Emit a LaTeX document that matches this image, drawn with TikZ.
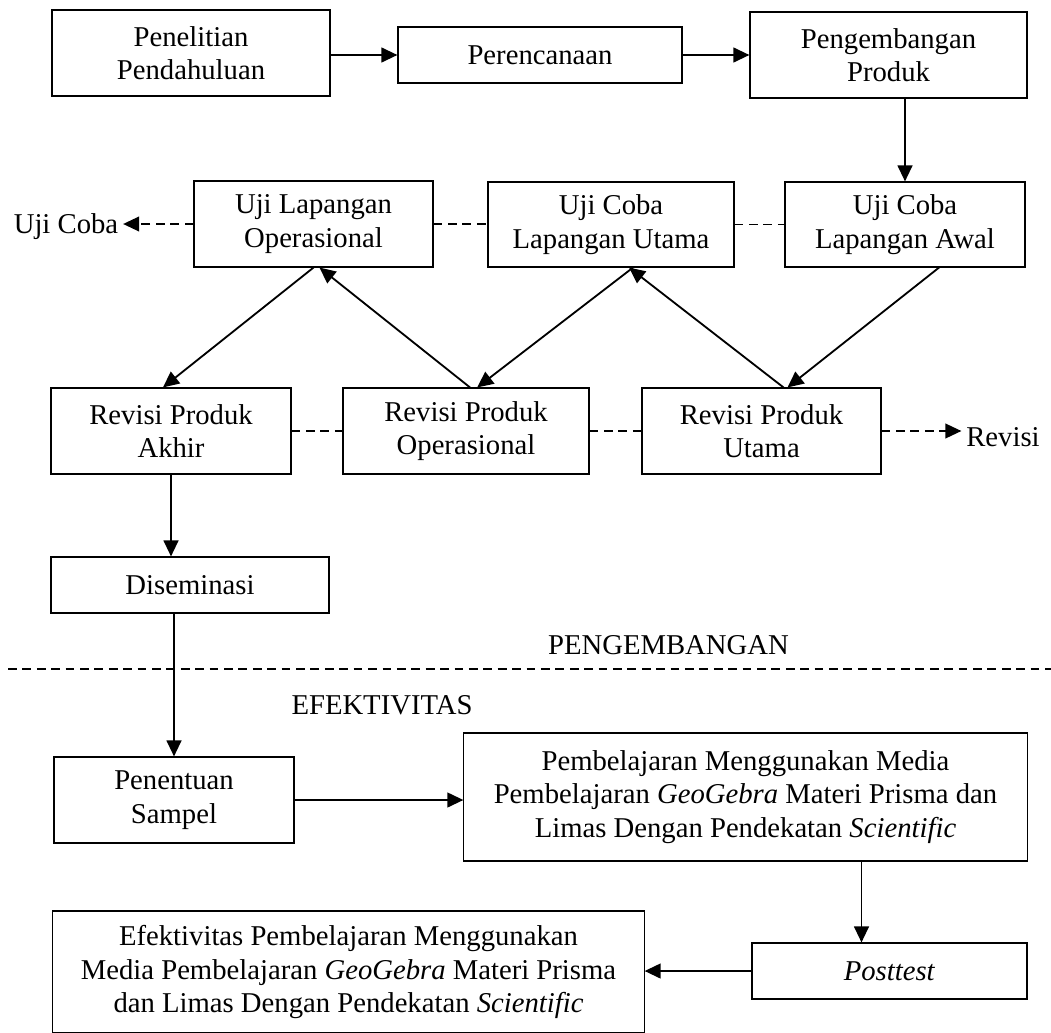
\documentclass[tikz,border=0pt]{standalone}
\usepackage{fontspec}
\setmainfont{Liberation Serif}
\usetikzlibrary{arrows.meta}
\tikzset{
  box/.style={draw, line width=0.8pt, align=center, inner sep=0pt},
  arr/.style={line width=1.3pt, -{Triangle[length=0.4cm,width=0.37cm]}},
  dashline/.style={line width=1pt, dash pattern=on 0.22cm off 0.14cm},
}

\begin{document}
\begin{tikzpicture}[x=0.025cm, y=-0.025cm, font=\fontsize{20.4}{23.8}\selectfont]
\useasboundingbox (0,0) rectangle (1051,1032);
\node[box, minimum width=6.95cm, minimum height=2.15cm] (pen) at (191,53) {Penelitian\\Pendahuluan};
\node[box, minimum width=7.1cm, minimum height=1.4cm] (ren) at (540,55) {Perencanaan};
\node[box, minimum width=6.925cm, minimum height=2.15cm] (pp) at (888.5,55) {Pengembangan\\Produk};
\node[box, minimum width=5.975cm, minimum height=2.15cm] (ulo) at (313.5,224) {Uji Lapangan\\Operasional};
\node[box, minimum width=6.15cm, minimum height=2.125cm] (uclu) at (611,224.5) {Uji Coba\\Lapangan Utama};
\node[box, minimum width=6cm, minimum height=2.125cm] (ucla) at (905,224.5) {Uji Coba\\Lapangan Awal};
\node[box, minimum width=6cm, minimum height=2.15cm] (rpa) at (171,431) {Revisi Produk\\Akhir};
\node[box, minimum width=6.15cm, minimum height=2.15cm] (rpo) at (466,431) {Revisi Produk\\Operasional};
\node[box, minimum width=5.975cm, minimum height=2.15cm] (rpu) at (761.5,431) {Revisi Produk\\Utama};
\node[box, minimum width=6.95cm, minimum height=1.4cm] (dis) at (190,585) {Diseminasi};
\node[box, minimum width=6cm, minimum height=2.15cm] (ps) at (174,800) {Penentuan\\Sampel};
\node[box, minimum width=14.075cm, minimum height=3.2cm] (pmb) at (745.5,797) {Pembelajaran Menggunakan Media\\Pembelajaran \textit{GeoGebra} Materi Prisma dan\\Limas Dengan Pendekatan \textit{Scientific}};
\node[box, minimum width=6.875cm, minimum height=1.4cm] (post) at (889.5,971) {\textit{Posttest}};
\node[box, minimum width=14.775cm, minimum height=3.05cm] (efk) at (348.5,972) {Efektivitas Pembelajaran Menggunakan\\Media Pembelajaran \textit{GeoGebra} Materi Prisma\\dan Limas Dengan Pendekatan \textit{Scientific}};
\node[anchor=base] (uc) at (66,233) {Uji Coba};
\node[anchor=base] (rv) at (1003,446) {Revisi};
\node[anchor=base] (lbpg) at (668.5,654) {PENGEMBANGAN};
\node[anchor=base] (lbef) at (382,714) {EFEKTIVITAS};
\draw[arr] (pen.east |- ren.west) -- (ren.west);
\draw[arr] (ren.east) -- (ren.east -| pp.west);
\draw[arr] (ucla.north |- pp.south) -- (ucla.north);
\draw[arr, dashline] (ulo.west) -- (ulo.west -| uc.east);
\foreach \a/\b in {ulo/uclu, uclu/ucla, rpa/rpo, rpo/rpu}
  \draw[dashline] (\a.east) -- (\a.east -| \b.west);
\draw[arr, dashline] (rpu.east) -- (rpu.east -| rv.west);
\draw[arr] (ulo.south) -- ([xshift=-0.2cm]rpa.north);
\draw[arr] ([xshift=0.1cm]rpo.north) -- ([xshift=0.15cm]ulo.south);
\draw[arr] ([xshift=0.55cm]uclu.south) -- ([xshift=0.28cm]rpo.north);
\draw[arr] ([xshift=0.55cm]rpu.north) -- ([xshift=0.45cm]uclu.south);
\draw[arr] ([xshift=0.85cm]ucla.south) -- ([xshift=0.65cm]rpu.north);
\draw[arr] (rpa.south) -- (rpa.south |- dis.north);
\draw[arr] (ps.north |- dis.south) -- (ps.north);
\draw[arr] (ps.east) -- (ps.east -| pmb.west);
\draw[arr] ([xshift=-0.7cm]post.north |- pmb.south) -- ([xshift=-0.7cm]post.north);
\draw[arr] (post.west) -- (post.west -| efk.east);
\draw[dashline] (8,669) -- (1051,669);
\end{tikzpicture}
\end{document}
